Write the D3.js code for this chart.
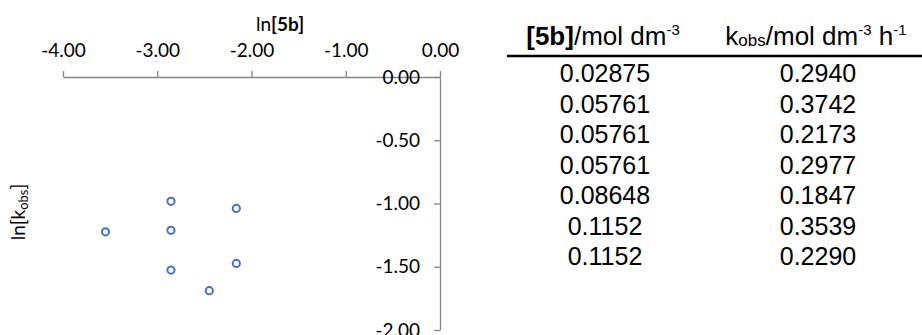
<!DOCTYPE html>
<html>
<head>
<meta charset="utf-8">
<script src="https://cdn.jsdelivr.net/npm/d3@7"></script>
<style>
  html, body { margin: 0; padding: 0; background: #fff; }
  svg { display: block; }
</style>
</head>
<body>
<svg id="chart" width="922" height="335"></svg>
<script>
// Measured concentrations of 5b and observed rate constants, as tabulated
const concLabels = ["0.02875", "0.05761", "0.05761", "0.05761", "0.08648", "0.1152", "0.1152"];
const kobsLabels = ["0.2940", "0.3742", "0.2173", "0.2977", "0.1847", "0.3539", "0.2290"];
const xTicks = [-4, -3, -2, -1, 0];
const yTicks = [0, -0.5, -1, -1.5, -2];

const chartFont = "Lato, 'Open Sans', sans-serif";
const tableFont = "'Liberation Sans', Arial, sans-serif";
const axisColor = "#868686";
const markerColor = "#4472C4";

const svg = d3.select("#chart");

// ln-ln points
const points = concLabels.map((c, i) => ({ x: Math.log(+c), y: Math.log(+kobsLabels[i]) }));

const x = d3.scaleLinear().domain([-4, 0]).range([63, 440]);
const y = d3.scaleLinear().domain([0, -2]).range([77, 330]);

const fmt = d3.formatLocale({ decimal: ".", thousands: ",", grouping: [3], currency: ["", ""], minus: "-" }).format(".2f");

// x axis along the top edge (y = 0)
const gx = svg.append("g")
  .attr("transform", `translate(0,${y(0)})`)
  .call(d3.axisTop(x).tickValues(xTicks).tickFormat(fmt).tickSize(6).tickSizeOuter(0).tickPadding(14));

// y axis along the right edge (x = 0)
const gy = svg.append("g")
  .attr("transform", `translate(${x(0)},0)`)
  .call(d3.axisLeft(y).tickValues(yTicks).tickFormat(fmt).tickSize(6).tickSizeOuter(0).tickPadding(14));

[gx, gy].forEach(g => {
  g.attr("font-family", chartFont).attr("font-size", 19);
  g.selectAll("path, line").attr("stroke", axisColor).attr("stroke-width", 1.3);
  g.selectAll("text").attr("fill", "#000");
});

// axis titles
const xt = svg.append("text")
  .attr("x", 280).attr("y", 31)
  .attr("text-anchor", "middle")
  .attr("font-family", chartFont).attr("font-size", 19);
xt.append("tspan").text("ln");
xt.append("tspan").attr("font-weight", "bold").text("[5b]");

const yt = svg.append("text")
  .attr("transform", "translate(25,212) rotate(-90)")
  .attr("text-anchor", "middle")
  .attr("font-family", chartFont).attr("font-size", 19);
yt.append("tspan").text("ln[k");
yt.append("tspan").attr("font-size", 13).attr("dy", 3).text("obs");
yt.append("tspan").attr("dy", -3).text("]");

// markers
svg.append("g")
  .selectAll("circle")
  .data(points)
  .join("circle")
  .attr("cx", d => x(d.x))
  .attr("cy", d => y(d.y))
  .attr("r", 3.6)
  .attr("fill", "#fff")
  .attr("stroke", markerColor)
  .attr("stroke-width", 2);

// data table
const colX = [603, 816];
const table = svg.append("g").attr("font-family", tableFont).attr("fill", "#000");

const h1 = table.append("text").attr("x", colX[0]).attr("y", 45).attr("text-anchor", "middle").attr("font-size", 26);
h1.append("tspan").attr("font-weight", "bold").text("[5b]");
h1.append("tspan").text("/mol dm");
h1.append("tspan").attr("font-size", 15).attr("dy", -10).text("-3");

const h2 = table.append("text").attr("x", colX[1]).attr("y", 45).attr("text-anchor", "middle").attr("font-size", 26);
h2.append("tspan").text("k");
h2.append("tspan").attr("font-size", 17).attr("dy", 1).text("obs");
h2.append("tspan").attr("dy", -1).text("/mol dm");
h2.append("tspan").attr("font-size", 15).attr("dy", -10).text("-3");
h2.append("tspan").attr("dy", 10).text(" h");
h2.append("tspan").attr("font-size", 15).attr("dy", -10).text("-1");

table.append("line")
  .attr("x1", 507).attr("x2", 922)
  .attr("y1", 56).attr("y2", 56)
  .attr("stroke", "#000").attr("stroke-width", 2.5);

const rowY = d3.scalePoint().domain(d3.range(concLabels.length)).range([82, 265]);

table.selectAll("text.c1")
  .data(concLabels)
  .join("text")
  .attr("class", "c1")
  .attr("x", 605).attr("y", (d, i) => rowY(i))
  .attr("text-anchor", "middle").attr("font-size", 25)
  .text(d => d);

table.selectAll("text.c2")
  .data(kobsLabels)
  .join("text")
  .attr("class", "c2")
  .attr("x", 818).attr("y", (d, i) => rowY(i))
  .attr("text-anchor", "middle").attr("font-size", 25)
  .text(d => d);
</script>
</body>
</html>
